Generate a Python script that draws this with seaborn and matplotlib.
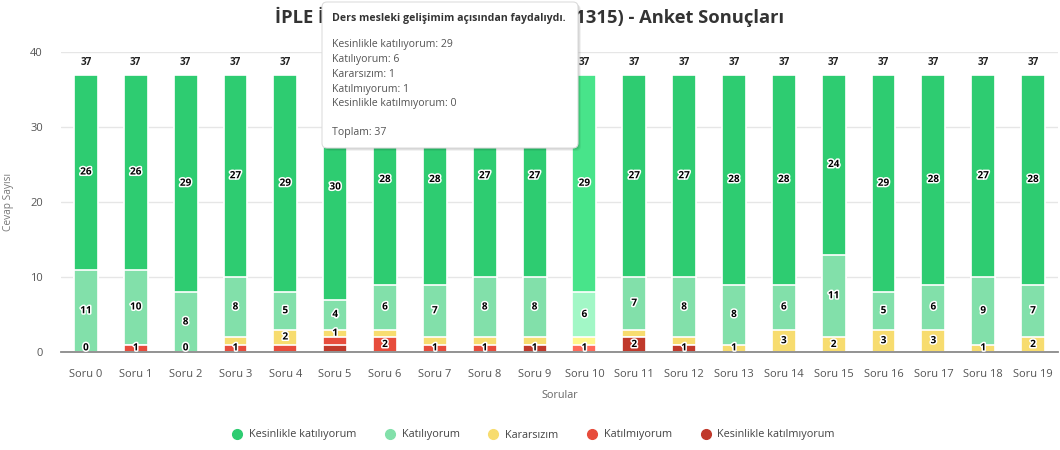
import matplotlib
matplotlib.use("Agg")
import matplotlib.pyplot as plt
import matplotlib.patheffects as pe
from matplotlib.patches import FancyBboxPatch
from matplotlib.lines import Line2D
from matplotlib.transforms import IdentityTransform
import pandas as pd
import seaborn as sns

########## Data ##############

questions = [f"Soru {i}" for i in range(20)]

strongly_agree = [26, 26, 29, 27, 29, 30, 28, 28, 27, 27, 29, 27, 27, 28, 28, 24, 29, 28, 27, 28]
agree = [11, 10, 8, 8, 5, 4, 6, 7, 8, 8, 6, 7, 8, 8, 6, 11, 5, 6, 9, 7]
undecided = [0, 0, 0, 1, 2, 1, 1, 1, 1, 1, 1, 1, 1, 1, 3, 2, 3, 3, 1, 2]
disagree = [0, 1, 0, 1, 1, 1, 2, 1, 1, 0, 1, 0, 0, 0, 0, 0, 0, 0, 0, 0]
strongly_disagree = [0, 0, 0, 0, 0, 1, 0, 0, 0, 1, 0, 2, 1, 0, 0, 0, 0, 0, 0, 0]

categories = ["Kesinlikle katılıyorum", "Katılıyorum", "Kararsızım",
              "Katılmıyorum", "Kesinlikle katılmıyorum"]
colors = ["#2ecc71", "#82e0aa", "#f7dc6f", "#e74c3c", "#c0392b"]
hover_colors = ["#48e48a", "#a2f7c6", "#fff78c", "#ff6a5a", "#c0392b"]

# bar under the mouse (lighter colours + tooltip)
hovered = 10
tooltip_title = "Ders mesleki gelişimim açısından faydalıydı."

# which of the small bottom segments keeps its number (others hidden by overlap)
# 2 = Kararsızım, 3 = Katılmıyorum, 4 = Kesinlikle katılmıyorum
small_label = [4, 3, 4, 3, 2, 2, 3, 3, 3, 4, 3, 4, 4, 2, 2, 2, 2, 2, 2, 2]

title = "İPLE İşletme Yönetimi Dersi (İPLE1315) - Anket Sonuçları"

df = pd.DataFrame({
    categories[0]: strongly_agree,
    categories[1]: agree,
    categories[2]: undecided,
    categories[3]: disagree,
    categories[4]: strongly_disagree,
}, index=questions)

# stacking goes bottom-up: strongly disagree first
bottom_up = categories[::-1]
cum = df[bottom_up].cumsum(axis=1)
totals = df.sum(axis=1)

##### Plot #############

sns.set_theme(style="white")
plt.rcParams['font.family'] = ['Open Sans', 'DejaVu Sans']

fig = plt.figure(figsize=(10.6, 4.5), dpi=100)
ax = fig.add_axes([61 / 1060, 98 / 450, 997 / 1060, 300 / 450])

# draw cumulative bars from the top down, each one covers the part below
for cat in categories:
    k = categories.index(cat)
    pal = [hover_colors[k] if i == hovered else colors[k] for i in range(len(questions))]
    sns.barplot(x=questions, y=cum[cat].values, hue=questions, palette=pal,
                legend=False, width=0.48, saturation=1,
                edgecolor="white", linewidth=1.2, ax=ax)

stroke = [pe.withStroke(linewidth=2.2, foreground="white")]
for i, q in enumerate(questions):
    for k, cat in enumerate(bottom_up):
        idx = categories.index(cat)
        if idx >= 2 and idx != small_label[i]:
            continue
        high = cum.loc[q, cat]
        low = high - df.loc[q, cat]
        y = max((low + high) / 2, 0.55)
        ax.text(i, y, str(df.loc[q, cat]), ha="center", va="center",
                fontsize=7.2, fontweight="bold", color="black", path_effects=stroke)
    ax.annotate(str(totals[q]), (i, totals[q]), xytext=(0, 8.3),
                textcoords="offset points", ha="center", va="center",
                fontsize=7.2, fontweight="bold", color="#222222")

ax.set_xlim(-0.5, len(questions) - 0.5)
ax.set_ylim(0, 40)
ax.set_yticks([0, 10, 20, 30, 40])
ax.grid(axis="y", color="#e6e6e6", linewidth=1)
ax.set_axisbelow(True)
for s in ["top", "right", "left"]:
    ax.spines[s].set_visible(False)
ax.spines["bottom"].set_color("#8a8a8a")
ax.spines["bottom"].set_linewidth(1.3)
ax.tick_params(axis="y", length=0, pad=13, labelsize=8, labelcolor="#555555")
ax.tick_params(axis="x", length=0, pad=12, labelsize=8, labelcolor="#555555")

ax.set_ylabel("Cevap Sayısı", fontsize=7.3, color="#777777")
ax.yaxis.set_label_coords(-0.047, 0.5)
ax.set_xlabel("Sorular", fontsize=7.8, color="#666666")
ax.xaxis.set_label_coords(0.5, -0.125)

fig.text(0.5, 1 - 17 / 450, title, ha="center", va="center",
         fontsize=13.2, fontweight="bold", color="#333333", zorder=1)

handles = [Line2D([0], [0], marker="o", linestyle="", markersize=7,
                  markerfacecolor=c, markeredgecolor=c) for c in colors]
fig.legend(handles, categories, loc="center", bbox_to_anchor=(0.503, 1 - 435 / 450),
           ncol=5, frameon=False, fontsize=7.8, handlelength=1.0,
           handletextpad=0.6, columnspacing=2.6, labelcolor="#444444")

# tooltip of the hovered bar
bx, by, bw, bh = 322, 450 - 148, 256, 146
for off, a in [(3, 0.05), (2, 0.07), (1, 0.08)]:
    fig.add_artist(FancyBboxPatch((bx + off, by - off), bw, bh,
                                  boxstyle="round,pad=0,rounding_size=5",
                                  transform=IdentityTransform(),
                                  facecolor="black", edgecolor="none", alpha=a, zorder=9))
fig.add_artist(FancyBboxPatch((bx, by), bw, bh, boxstyle="round,pad=0,rounding_size=5",
                              transform=IdentityTransform(), facecolor="white",
                              edgecolor="#dddddd", linewidth=0.8, zorder=10))

tip_lines = [f"{cat}: {df.iloc[hovered][cat]}" for cat in categories]
fig.text(332 / 1060, 1 - 19 / 450, tooltip_title, ha="left", va="center",
         fontsize=7.6, fontweight="bold", color="#333333", zorder=11)
for n, line in enumerate(tip_lines):
    fig.text(332 / 1060, 1 - (45 + n * 14.7) / 450, line, ha="left", va="center",
             fontsize=7.6, color="#555555", zorder=11)
fig.text(332 / 1060, 1 - 132 / 450, f"Toplam: {totals.iloc[hovered]}", ha="left",
         va="center", fontsize=7.6, color="#555555", zorder=11)

plt.savefig("out.png", dpi=100)
